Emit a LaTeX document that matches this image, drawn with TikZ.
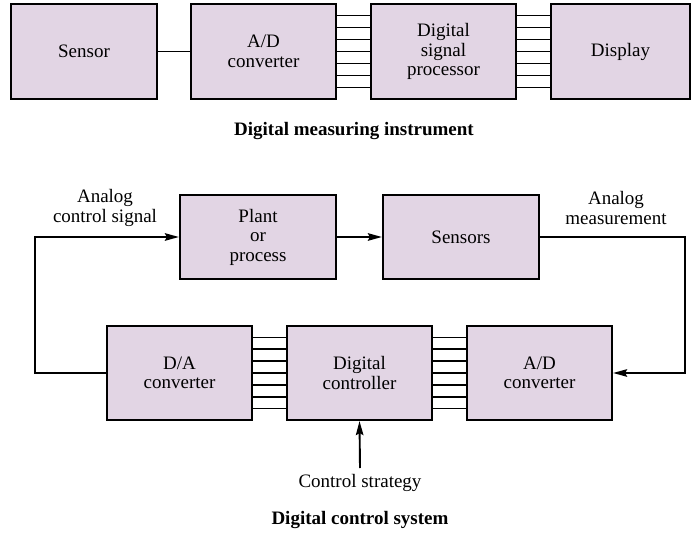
\documentclass[tikz,border=0pt]{standalone}
\usepackage{fontspec}
\setmainfont{Liberation Serif}
\usetikzlibrary{arrows.meta}
\definecolor{boxfill}{RGB}{226,213,228}
\begin{document}
\begin{tikzpicture}[x=1bp,y=-1bp,
  blk/.style={draw=black,line width=2.2bp,fill=boxfill,align=center,inner sep=0pt,
    font=\rmfamily\fontsize{19bp}{19.5bp}\selectfont},
  lbl/.style={align=center,inner sep=0pt,font=\rmfamily\fontsize{19bp}{20bp}\selectfont},
  ttl/.style={inner sep=0pt,font=\rmfamily\fontsize{19bp}{20bp}\selectfont\bfseries},
  wire/.style={line width=1.9bp},
  arr/.style={line width=1.9bp,-{Stealth[length=14bp,width=7.5bp,inset=2bp]}}]
\useasboundingbox (0,0) rectangle (691,533);
% top row
\node[blk,minimum width=146bp,minimum height=95bp] (sensor) at (84,51.5) {Sensor};
\node[blk,minimum width=145bp,minimum height=95bp] (ad1) at (263.5,51.5) {A/D\\converter};
\node[blk,minimum width=145bp,minimum height=95bp] (dsp) at (443.5,51.5) {Digital\\signal\\processor};
\node[blk,minimum width=139bp,minimum height=95bp] (disp) at (620.5,51.5) {Display};
\draw[wire] (sensor.east) -- (ad1.west);
\foreach \k in {-36,-24,-12,0,12,24,36}{
  \draw[wire] ([yshift=\k bp]ad1.east) -- ([yshift=\k bp]dsp.west);
  \draw[wire] ([yshift=\k bp]dsp.east) -- ([yshift=\k bp]disp.west);
}
\node[ttl] (t1) at (354,131) {Digital measuring instrument};
% bottom
\node[blk,minimum width=156bp,minimum height=84bp] (plant) at (258,237) {Plant\\or\\process};
\node[blk,minimum width=156bp,minimum height=84bp] (sens) at (461,237) {Sensors};
\node[blk,minimum width=145bp,minimum height=94bp] (da) at (179.5,373) {D/A\\converter};
\node[blk,minimum width=145bp,minimum height=94bp] (dc) at (359.5,373) {Digital\\controller};
\node[blk,minimum width=145bp,minimum height=94bp] (ad2) at (539.5,373) {A/D\\converter};
\foreach \k in {-35.5,-23.7,-11.8,0,11.8,23.7,35.5}{
  \draw[wire] ([yshift=\k bp]da.east) -- ([yshift=\k bp]dc.west);
  \draw[wire] ([yshift=\k bp]dc.east) -- ([yshift=\k bp]ad2.west);
}
\draw[arr] (plant.east) -- (sens.west);
\coordinate (lc) at (35,237);
\coordinate (rc) at (685,237);
\draw[arr] (da.west) -| (lc) -- (plant.west);
\draw[arr] (sens.east) -- (rc) |- (ad2.east);
\node[lbl] (acs) at (105,208) {Analog\\control signal};
\node[lbl] (am) at (616,208) {Analog\\measurement};
\node[lbl] (cs) at (360,483) {Control strategy};
\coordinate (cst) at (360,468);
\draw[arr] (cst) -- (dc.south);
\node[ttl] (t2) at (360,520) {Digital control system};
\end{tikzpicture}
\end{document}
